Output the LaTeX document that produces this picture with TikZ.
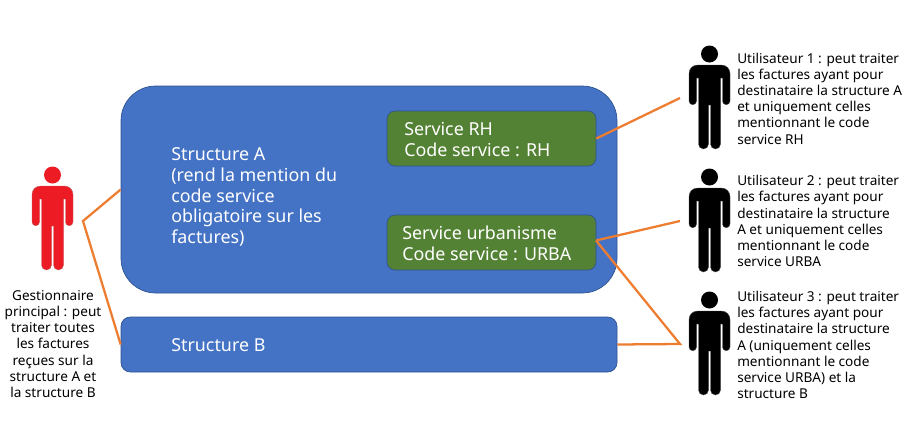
\documentclass[tikz,border=0pt]{standalone}
\usepackage{fontspec}
\setmainfont{Noto Sans}
\definecolor{blueS}{HTML}{4472C4}
\definecolor{blueE}{HTML}{2F528F}
\definecolor{greenS}{HTML}{548235}
\definecolor{orangeL}{HTML}{ED7D31}
\definecolor{redP}{HTML}{ED1C24}
\tikzset{
  x=0.75pt,y=-0.75pt,
  bigbox/.style={draw=blueE,line width=0.5pt,fill=blueS,inner sep=0,minimum width=372pt},
  svcbox/.style={draw=blueE,line width=0.5pt,fill=greenS,inner sep=0,minimum width=156.75pt,minimum height=41.25pt,rounded corners=6pt},
  whitetxt/.style={text=white,anchor=west,align=left,inner sep=0,font=\fontsize{13.4}{15.7}\selectfont},
  smalltxt/.style={text=black,inner sep=0,font=\fontsize{10.2}{12.15}\selectfont},
  link/.style={draw=orangeL,line width=1.7pt},
  pics/person/.style={code={
    \fill[#1] (0,0) circle[radius=8.5];
    \path[fill=#1,draw=#1!70!black!70,line width=0.3pt]
      (-12,11) -- (12,11) arc[start angle=270,end angle=360,radius=8.5]
      -- (20.5,47) arc[start angle=0,end angle=180,radius=3.75]
      -- (13,24) -- (11,24) -- (11,90) arc[start angle=0,end angle=180,radius=5]
      -- (1,51) -- (-1,51) -- (-1,90) arc[start angle=0,end angle=180,radius=5]
      -- (-11,24) -- (-13,24) -- (-13,47) arc[start angle=0,end angle=180,radius=3.75]
      -- (-20.5,19.5) arc[start angle=180,end angle=270,radius=8.5] -- cycle;
  }}
}
\begin{document}
\begin{tikzpicture}
\useasboundingbox (0,0) rectangle (907,425);
\node[bigbox,minimum height=155.25pt,rounded corners=26pt] (boxA) at (369,189.5) {};
\node[bigbox,minimum height=41.25pt,rounded corners=7pt] (boxB) at (369,344.5) {};
\node[svcbox] (svcRH) at (491.5,138.5) {};
\node[svcbox] (svcU) at (491.5,242.5) {};
\node[whitetxt] (tA) at (171,197) {Structure A\\(rend la mention du\\code service\\obligatoire sur les\\factures)};
\node[whitetxt] (tB) at (171,345) {Structure B};
\node[whitetxt] (tRH) at (404,139.5) {Service RH\\Code service : RH};
\node[whitetxt] (tU) at (402,243.5) {Service urbanisme\\Code service : URBA};
\coordinate (jct) at (83,221);
\coordinate (u1) at (680,98);
\coordinate (u2) at (680,221);
\coordinate (u3) at (680,344);
\coordinate (svcUp) at (596,240.5);
\draw[link] (boxA.west) -- (jct) -- (boxB.west);
\draw[link] (svcRH.east) -- (u1);
\draw[link] (svcUp) -- (u2);
\draw[link] (svcUp) -- (u3) -- (boxB.east);
\pic at (52.5,175) {person=redP};
\pic at (709.5,54) {person=black};
\pic at (709.5,177) {person=black};
\pic at (709.5,300) {person=black};
\node[smalltxt,align=center] (tG) at (53,344) {Gestionnaire\\principal : peut\\traiter toutes\\les factures\\reçues sur la\\structure A et\\la structure B};
\node[smalltxt,align=left,anchor=west] (t1) at (737,98.5) {Utilisateur 1 : peut traiter\\les factures ayant pour\\destinataire la structure A\\et uniquement celles\\mentionnant le code\\service RH};
\node[smalltxt,align=left,anchor=west] (t2) at (737,221) {Utilisateur 2 : peut traiter\\les factures ayant pour\\destinataire la structure\\A et uniquement celles\\mentionnant le code\\service URBA};
\node[smalltxt,align=left,anchor=west] (t3) at (737,345) {Utilisateur 3 : peut traiter\\les factures ayant pour\\destinataire la structure\\A (uniquement celles\\mentionnant le code\\service URBA) et la\\structure B};
\end{tikzpicture}
\end{document}
